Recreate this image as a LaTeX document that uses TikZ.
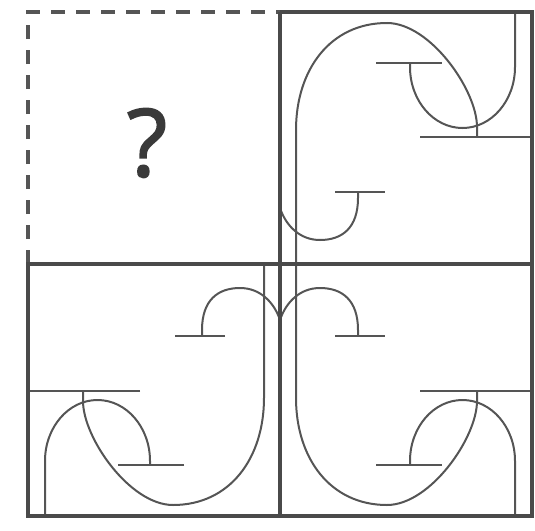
\documentclass[tikz,border=0pt]{standalone}
\usepackage{fontspec}
\newfontfamily\qfont[FakeBold=1.6]{Open Sans}
\definecolor{framegray}{HTML}{4A4A4A}
\definecolor{curvegray}{HTML}{555555}
\definecolor{textgray}{HTML}{3A3A3A}
\tikzset{
  frameline/.style={draw=framegray, line width=4pt},
  thinline/.style={draw=curvegray, line width=2pt},
  dashline/.style={draw=curvegray, line width=3.5pt, dash pattern=on 14pt off 11pt},
}
\newcommand\drawmotif{%
  % long bar with the big arch
  \draw[thinline] (140,125) -- (252,125);
  \draw[thinline] (197,125) -- (197,115)
     .. controls (197,78) and (150,11) .. (107,11)
     .. controls (50,11) and (16,58) .. (16,118) -- (16,252);
  % upper T with the hook reaching the top edge
  \draw[thinline] (96,51) -- (162,51);
  \draw[thinline] (130,51) -- (130,55)
     .. controls (130,88.7) and (153.5,116) .. (182.5,116)
     .. controls (211.5,116) and (235,88.7) .. (235,55) -- (235,0);
  % small T with the hook reaching the left edge
  \draw[thinline] (55,180) -- (105,180);
  \draw[thinline] (78,180) -- (78,186)
     .. controls (78,216) and (62,228) .. (40,228)
     .. controls (20,228) and (6,214) .. (0,196);
}
\begin{document}
\begin{tikzpicture}[x=1pt, y=-1pt]
  \useasboundingbox (0,0) rectangle (535,530);
  % motifs
  \begin{scope}[shift={(280,12)}]
    \drawmotif
  \end{scope}
  \begin{scope}[shift={(280,516)}, yscale=-1]
    \drawmotif
  \end{scope}
  \begin{scope}[shift={(280,516)}, xscale=-1, yscale=-1]
    \drawmotif
  \end{scope}
  % missing cell
  \draw[dashline] (28,264) -- (28,12) -- (280,12);
  \node[inner sep=0pt, text=textgray, font=\qfont\fontsize{94}{94}\selectfont] (q) at (147,143) {?};
  % frame
  \draw[frameline] (280,12) -- (532,12) -- (532,516) -- (28,516) -- (28,264) -- (532,264);
  \draw[frameline] (280,12) -- (280,516);
\end{tikzpicture}
\end{document}
